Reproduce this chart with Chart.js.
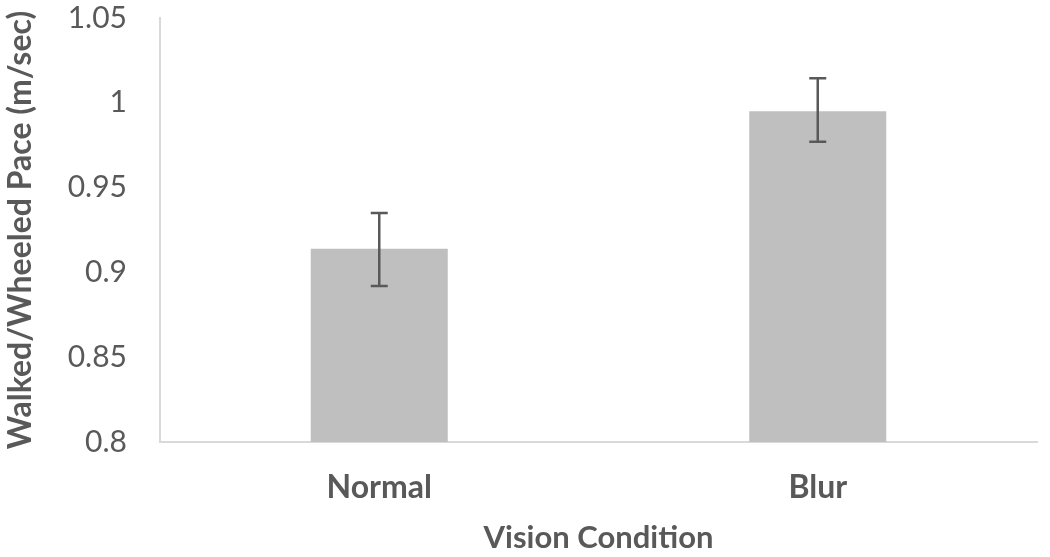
<!DOCTYPE html>
<html>
<head>
<meta charset="utf-8">
<script src="https://cdn.jsdelivr.net/npm/chart.js@4"></script>
<style>
  html, body { margin: 0; padding: 0; background: #fff; }
  #wrap { width: 1050px; height: 557px; }
</style>
</head>
<body>
<div id="wrap"><canvas id="paceChart" width="1050" height="557"></canvas></div>
<script>
// data
const conditions = ['Normal', 'Blur'];
const paceMeans = [0.914, 0.995];
const paceErrLow = [0.892, 0.977];
const paceErrHigh = [0.935, 1.0145];
const yTicks = [0.8, 0.85, 0.9, 0.95, 1, 1.05];

const textGrey = '#595959';

// draws the error bars from the arrays above, using the chart's own scales
const errorBars = {
    id: 'errorBars',
    afterDatasetsDraw(chart) {
        const ctx = chart.ctx;
        const yScale = chart.scales.y;
        const meta = chart.getDatasetMeta(0);
        ctx.save();
        ctx.strokeStyle = '#595959';
        ctx.lineWidth = 2.5;
        meta.data.forEach((bar, i) => {
            const x = bar.x;
            const top = yScale.getPixelForValue(paceErrHigh[i]);
            const bottom = yScale.getPixelForValue(paceErrLow[i]);
            const half = 8.5;
            ctx.beginPath();
            ctx.moveTo(x, top);
            ctx.lineTo(x, bottom);
            ctx.moveTo(x - half, top);
            ctx.lineTo(x + half, top);
            ctx.moveTo(x - half, bottom);
            ctx.lineTo(x + half, bottom);
            ctx.stroke();
        });
        ctx.restore();
    }
};

const ctx = document.getElementById('paceChart').getContext('2d');
new Chart(ctx, {
    type: 'bar',
    data: {
        labels: conditions,
        datasets: [{
            label: 'Pace',
            data: paceMeans,
            backgroundColor: '#bfbfbf',
            borderWidth: 0,
            barPercentage: 0.3125,
            categoryPercentage: 1
        }]
    },
    options: {
        responsive: false,
        animation: false,
        layout: { padding: { top: 18, right: 13, left: 0, bottom: 0 } },
        plugins: {
            legend: { display: false },
            tooltip: { enabled: false }
        },
        scales: {
            x: {
                grid: { display: false, drawTicks: false },
                border: { color: '#d9d9d9', width: 2 },
                ticks: {
                    color: textGrey,
                    font: { family: 'Lato', size: 32, weight: 'bold' },
                    padding: 26
                },
                title: {
                    display: true,
                    text: 'Vision Condition',
                    color: textGrey,
                    font: { family: 'Lato', size: 31, weight: 'bold' },
                    padding: { top: 4, bottom: 0 }
                },
                afterFit(scale) { scale.height = 115; }
            },
            y: {
                min: 0.8,
                max: 1.05,
                afterBuildTicks(scale) {
                    scale.ticks = yTicks.map(v => ({ value: v }));
                },
                grid: { display: false, drawTicks: false },
                border: { color: '#d9d9d9', width: 2 },
                ticks: {
                    color: textGrey,
                    font: { family: 'Lato', size: 30 },
                    padding: 33,
                    callback: v => String(v)
                },
                title: {
                    display: true,
                    text: 'Walked/Wheeled Pace (m/sec)',
                    color: textGrey,
                    font: { family: 'Lato', size: 32, weight: 'bold' },
                    padding: { top: 1, bottom: 0 }
                },
                afterFit(scale) {
                    scale.width = 160;
                    // tick padding should not push the plot area down
                    scale.paddingTop = 0;
                    scale.paddingBottom = 0;
                }
            }
        }
    },
    plugins: [errorBars]
});
</script>
</body>
</html>
